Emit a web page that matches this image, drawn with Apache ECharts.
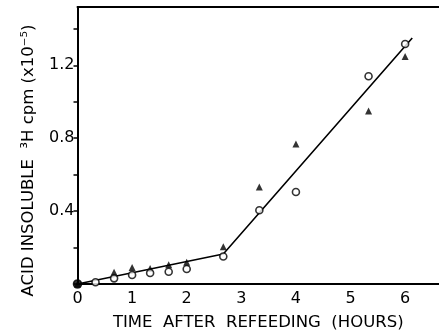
<!DOCTYPE html>
<html>
<head>
<meta charset="utf-8">
<script src="https://cdn.jsdelivr.net/npm/echarts@6/dist/echarts.min.js"></script>
<style>
  html, body { margin: 0; padding: 0; background: #fff; }
  #chart { width: 439px; height: 336px; }
</style>
</head>
<body>
<div id="chart"></div>
<script>
// open circles
var circleX = [0, 0.33, 0.67, 1, 1.33, 1.67, 2, 2.67, 3.33, 4, 5.33, 6];
var circleY = [0, 0.01, 0.031, 0.049, 0.06, 0.067, 0.082, 0.151, 0.405, 0.505, 1.14, 1.317];
// filled triangles
var triX = [0, 0.67, 1, 1.33, 1.67, 2, 2.67, 3.33, 4, 5.33, 6];
var triY = [0, 0.064, 0.091, 0.085, 0.105, 0.12, 0.205, 0.532, 0.768, 0.95, 1.248];
// fitted line (two segments)
var fitX = [0, 2.67, 6.13];
var fitY = [0, 0.165, 1.35];

var xTicks = [0, 1, 2, 3, 4, 5, 6];
var yTicks = [0.4, 0.8, 1.2];

function pairs(xs, ys) {
  var out = [];
  for (var i = 0; i < xs.length; i++) out.push([xs[i], ys[i]]);
  return out;
}

// origin point is drawn as a solid dot in the original
var circleData = pairs(circleX, circleY).map(function (p) {
  if (p[0] === 0 && p[1] === 0) {
    return { value: p, symbolSize: 8, itemStyle: { color: '#000' } };
  }
  return p;
});

var font = 'DejaVu Sans';
var chart = echarts.init(document.getElementById('chart'));

var option = {
  backgroundColor: '#ffffff',
  animation: false,
  grid: { left: 77.5, right: 0, top: 7, bottom: 51 },
  xAxis: [{
    type: 'value',
    min: 0,
    max: 6.62,
    interval: 1,
    name: 'TIME  AFTER  REFEEDING  (HOURS)',
    nameLocation: 'middle',
    nameGap: 30,
    nameTextStyle: { fontFamily: font, fontSize: 16.5, color: '#000' },
    axisLine: { lineStyle: { color: '#000', width: 2 } },
    axisTick: { show: false },
    splitLine: { show: false },
    axisLabel: {
      margin: 7,
      fontFamily: font, fontSize: 16, color: '#000',
      showMaxLabel: false,
      formatter: function (v) { return xTicks.indexOf(v) >= 0 ? String(v) : ''; }
    }
  }, {
    type: 'value',
    position: 'top',
    min: 0,
    max: 6.62,
    axisLine: { show: true, lineStyle: { color: '#000', width: 2 } },
    axisTick: { show: false },
    axisLabel: { show: false },
    splitLine: { show: false }
  }],
  yAxis: {
    type: 'value',
    min: 0,
    max: 1.52,
    interval: 0.2,
    name: 'ACID INSOLUBLE  ³H cpm (x10⁻⁵)',
    nameLocation: 'middle',
    nameRotate: 90,
    nameGap: 40,
    nameTextStyle: { fontFamily: font, fontSize: 16.5, color: '#000', padding: [0, 30, 0, 0] },
    axisLine: { lineStyle: { color: '#000', width: 2 } },
    axisTick: { show: true, inside: false, length: 4, lineStyle: { color: '#000', width: 1.5 } },
    splitLine: { show: false },
    axisLabel: {
      margin: 3,
      fontFamily: font, fontSize: 16, color: '#000',
      showMaxLabel: false,
      formatter: function (v) {
        for (var i = 0; i < yTicks.length; i++) {
          if (Math.abs(v - yTicks[i]) < 1e-6) return yTicks[i].toFixed(1);
        }
        return '';
      }
    }
  },
  series: [{
    type: 'line',
    data: pairs(fitX, fitY),
    showSymbol: false,
    symbol: 'none',
    lineStyle: { color: '#000', width: 1.6 },
    z: 1
  }, {
    type: 'scatter',
    data: pairs(triX, triY),
    symbol: 'triangle',
    symbolSize: 7,
    itemStyle: { color: '#000' },
    z: 2
  }, {
    type: 'scatter',
    data: circleData,
    symbol: 'circle',
    symbolSize: 7,
    itemStyle: { color: '#fff', borderColor: '#000', borderWidth: 1.6 },
    z: 3
  }]
};

chart.setOption(option);
</script>
</body>
</html>
